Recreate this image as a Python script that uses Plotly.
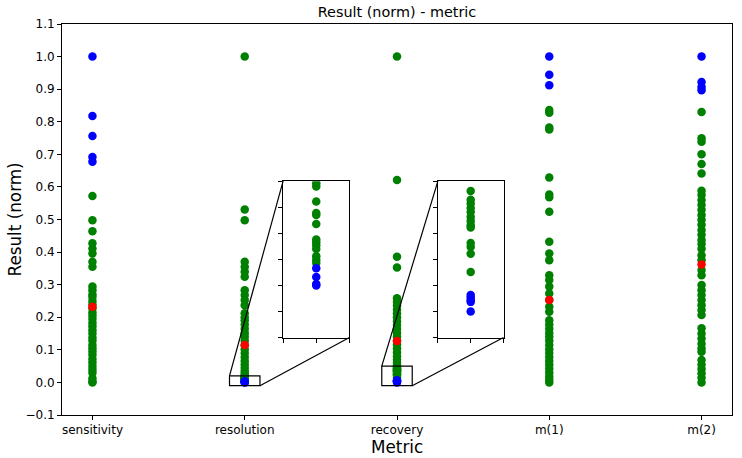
import plotly.graph_objects as go

categories = ["sensitivity", "resolution", "recovery", "m(1)", "m(2)"]

green_values = {
    "sensitivity": [0.572, 0.498, 0.464, 0.427, 0.411, 0.396, 0.370, 0.355, 0.294, 0.283,
                    0.270, 0.262, 0.250, 0.240, 0.228, 0.215, 0.205, 0.195, 0.183, 0.172,
                    0.160, 0.150, 0.138, 0.128, 0.115, 0.105, 0.095, 0.085, 0.072, 0.062,
                    0.050, 0.040, 0.030, 0.013, 0.003, 0.0],
    "resolution": [1.0, 0.531, 0.498, 0.370, 0.355, 0.340, 0.324, 0.283, 0.268, 0.253,
                   0.237, 0.212, 0.200, 0.191, 0.178, 0.165, 0.152, 0.140, 0.128, 0.115,
                   0.102, 0.090, 0.078, 0.066, 0.055, 0.045, 0.035, 0.027, 0.0196, 0.019,
                   0.0161, 0.0139, 0.0135, 0.0118, 0.0088, 0.0083, 0.0077, 0.0070, 0.0056,
                   0.0049, 0.0043],
    "recovery": [1.0, 0.621, 0.386, 0.353, 0.258, 0.247, 0.236, 0.224, 0.212, 0.200,
                 0.188, 0.176, 0.164, 0.152, 0.140, 0.128, 0.116, 0.104, 0.092, 0.080,
                 0.070, 0.060, 0.053, 0.0462, 0.0429, 0.0414, 0.0397, 0.0382, 0.0363,
                 0.0347, 0.0331, 0.0322, 0.0263, 0.0248, 0.0222, 0.0152],
    "m(1)": [0.836, 0.828, 0.782, 0.776, 0.629, 0.577, 0.568, 0.524, 0.432, 0.396,
             0.375, 0.329, 0.314, 0.294, 0.273, 0.253, 0.232, 0.217, 0.191, 0.178,
             0.165, 0.152, 0.140, 0.128, 0.115, 0.102, 0.090, 0.078, 0.066, 0.054,
             0.042, 0.030, 0.018, 0.008, 0.0],
    "m(2)": [0.830, 0.749, 0.739, 0.700, 0.670, 0.641, 0.588, 0.575, 0.560, 0.545,
             0.530, 0.514, 0.499, 0.484, 0.468, 0.453, 0.437, 0.425, 0.410, 0.390,
             0.375, 0.345, 0.329, 0.299, 0.283, 0.268, 0.253, 0.237, 0.222, 0.207,
             0.166, 0.150, 0.135, 0.119, 0.104, 0.094, 0.069, 0.055, 0.041, 0.028,
             0.014, 0.0],
}

blue_values = {
    "sensitivity": [1.0, 0.818, 0.756, 0.692, 0.677],
    "resolution": [0.0033, 0.0016, 0.0003, 0.0],
    "recovery": [0.0063, 0.0053, 0.0043, 0.0037, 0.0],
    "m(1)": [1.0, 0.944, 0.912],
    "m(2)": [1.0, 0.922, 0.907, 0.897],
}

red_values = [0.232, 0.115, 0.127, 0.253, 0.362]

y_ticks = [-0.1, 0.0, 0.1, 0.2, 0.3, 0.4, 0.5, 0.6, 0.7, 0.8, 0.9, 1.0, 1.1]

# inset specs: (category index, x range, y range, y ticks)
insets = [
    (1, [0.9, 1.1], [-0.01, 0.02], [-0.01, -0.005, 0.0, 0.005, 0.01, 0.015, 0.02]),
    (2, [1.9, 2.1], [-0.01, 0.05], [-0.01, 0.0, 0.01, 0.02, 0.03, 0.04, 0.05]),
]
inset_domains = [([0.330, 0.429], [0.198, 0.598]), ([0.561, 0.659], [0.198, 0.598])]

XR = [-0.2, 4.2]
YR = [-0.1, 1.1]
MS = 8.5
GREEN, BLUE, RED = "#008000", "#0000ff", "#ff0000"

def pts(d):
    xs, ys = [], []
    for i, c in enumerate(categories):
        for v in d[c]:
            xs.append(i)
            ys.append(v)
    return xs, ys

gx, gy = pts(green_values)
bx, by = pts(blue_values)
rx = list(range(len(categories)))

fig = go.Figure()
axis_sets = [("x", "y")] + [("x%d" % (k + 2), "y%d" % (k + 2)) for k in range(len(insets))]
for xa, ya in axis_sets:
    fig.add_trace(go.Scatter(x=gx, y=gy, mode="markers", xaxis=xa, yaxis=ya,
                             marker=dict(color=GREEN, size=MS), showlegend=False))
    fig.add_trace(go.Scatter(x=bx, y=by, mode="markers", xaxis=xa, yaxis=ya,
                             marker=dict(color=BLUE, size=MS), showlegend=False))
    fig.add_trace(go.Scatter(x=rx, y=red_values, mode="markers", xaxis=xa, yaxis=ya,
                             marker=dict(color=RED, size=MS), showlegend=False))

font = dict(family="DejaVu Sans", size=12, color="black")
common = dict(showline=True, linecolor="black", linewidth=1, mirror=True,
              ticks="outside", ticklen=4, tickwidth=1, tickcolor="black",
              showgrid=False, zeroline=False, tickfont=font)

layout = dict(
    width=742, height=458, autosize=False,
    margin=dict(l=62, r=10, t=24, b=43),
    paper_bgcolor="white", plot_bgcolor="white",
    font=font,
    title=dict(text="Result (norm) - metric", x=0.5, xref="paper", y=1 - 12 / 458,
               yref="container", xanchor="center", yanchor="middle",
               font=dict(family="DejaVu Sans", size=14.4, color="black")),
    xaxis=dict(range=XR, tickmode="array", tickvals=list(range(len(categories))),
               ticktext=categories, **common),
    yaxis=dict(range=YR, tickmode="array", tickvals=y_ticks, tickformat=".1f", **common),
)

shapes = []
for k, (ci, xr, yr, yt) in enumerate(insets):
    n = k + 2
    dx, dy = inset_domains[k]
    layout["xaxis%d" % n] = dict(domain=dx, anchor="y%d" % n, range=xr, tickmode="array",
                                 tickvals=[xr[0], (xr[0] + xr[1]) / 2, xr[1]],
                                 showticklabels=False, **common)
    layout["yaxis%d" % n] = dict(domain=dy, anchor="x%d" % n, range=yr, tickmode="array",
                                 tickvals=yt, showticklabels=False, **common)
    # zoom rectangle in main data coords
    shapes.append(dict(type="rect", xref="x", yref="y", x0=xr[0], x1=xr[1], y0=yr[0], y1=yr[1],
                       line=dict(color="black", width=1.2), fillcolor="rgba(0,0,0,0)"))
    # connectors: top-left to top-left, bottom-right to bottom-right
    def to_paper(x, y):
        return ((x - XR[0]) / (XR[1] - XR[0]), (y - YR[0]) / (YR[1] - YR[0]))
    tlx, tly = to_paper(xr[0], yr[1])
    brx, bry = to_paper(xr[1], yr[0])
    shapes.append(dict(type="line", xref="paper", yref="paper", x0=tlx, y0=tly, x1=dx[0], y1=dy[1],
                       line=dict(color="black", width=1.2)))
    shapes.append(dict(type="line", xref="paper", yref="paper", x0=brx, y0=bry, x1=dx[1], y1=dy[0],
                       line=dict(color="black", width=1.2)))
layout["shapes"] = shapes

label_font = dict(family="DejaVu Sans", size=16.8, color="black")
layout["annotations"] = [
    dict(text="Metric", xref="paper", yref="paper", x=0.5, y=0, yshift=-32,
         xanchor="center", yanchor="middle", showarrow=False, font=label_font),
    dict(text="Result (norm)", xref="paper", yref="paper", x=0, y=0.5, xshift=-48,
         xanchor="center", yanchor="middle", textangle=-90, showarrow=False, font=label_font),
]

fig.update_layout(**layout)
fig.write_html("out.html")
